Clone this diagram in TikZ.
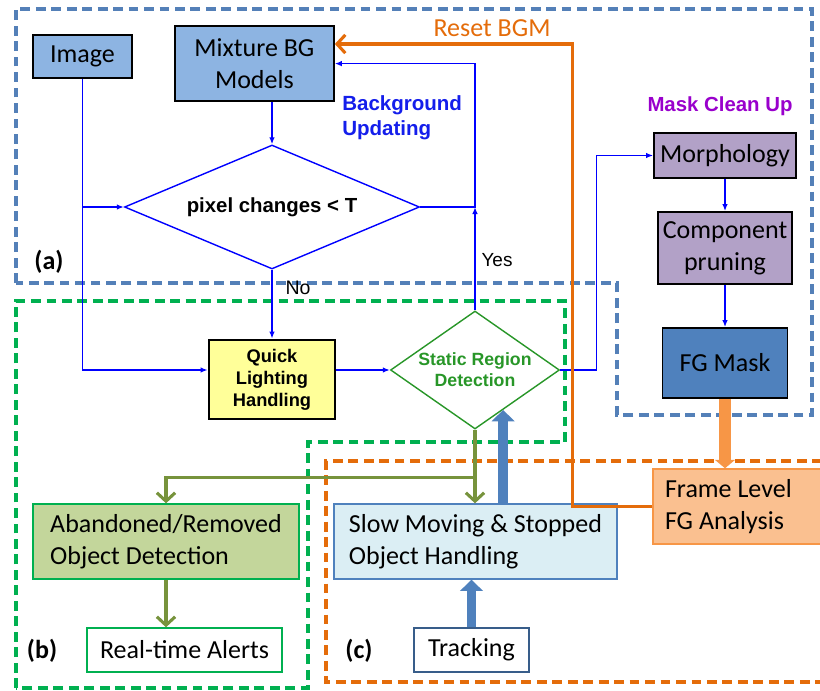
\documentclass[tikz,border=0pt]{standalone}
\usepackage{fontspec}
\setmainfont{Carlito}
\newfontfamily\arialfont{Liberation Sans}
\usetikzlibrary{shapes.geometric, arrows.meta, calc}

\definecolor{lineblue}{RGB}{0,0,255}
\definecolor{bgblue}{RGB}{141,180,226}
\definecolor{maskpurple}{RGB}{178,161,199}
\definecolor{fgblue}{RGB}{79,129,189}
\definecolor{darkblue}{RGB}{56,93,138}
\definecolor{quickyellow}{RGB}{255,255,153}
\definecolor{srgreen}{RGB}{40,150,40}
\definecolor{regiona}{RGB}{84,128,184}
\definecolor{regionb}{RGB}{0,176,80}
\definecolor{regionc}{RGB}{228,108,10}
\definecolor{olivearrow}{RGB}{119,147,60}
\definecolor{abgreen}{RGB}{195,214,155}
\definecolor{slowblue}{RGB}{219,238,244}
\definecolor{framefill}{RGB}{250,192,144}
\definecolor{frameline}{RGB}{247,150,70}
\definecolor{cleanpurple}{RGB}{153,0,204}
\definecolor{updblue}{RGB}{20,30,235}

\newcommand{\boxfont}{\fontsize{18.5}{22.5}\selectfont}
\newcommand{\arialb}{\arialfont\bfseries}

\begin{document}
\begin{tikzpicture}[
  flow/.style={draw=lineblue, line width=1pt, -{Latex[length=5pt,width=4pt]}},
  gflow/.style={draw=olivearrow, line width=2.2pt, -{Straight Barb[length=6pt,width=13pt]}},
  reset/.style={draw=regionc, line width=2.2pt, -{Straight Barb[length=6pt,width=13pt]}},
  block/.style={draw=fgblue, line width=7pt, -{Triangle[length=8pt,width=16pt]}},
  fgflow/.style={draw=frameline, line width=8pt, -{Triangle[length=6pt,width=14pt]}},
  region/.style={line width=2.4pt, dash pattern=on 7pt off 4pt},
  bgbox/.style={draw=black, line width=1.3pt, fill=bgblue, align=center, inner sep=0pt, font=\boxfont},
  maskbox/.style={draw=black, line width=1.3pt, fill=maskpurple, align=center, inner sep=0pt, font=\boxfont},
  textbox/.style={line width=1pt, align=left, inner xsep=0.3cm, font=\boxfont},
  decision/.style={diamond, draw, line width=1pt, inner sep=0pt, align=center},
  tag/.style={font=\boxfont\bfseries}
]
  \useasboundingbox (0,0) rectangle (20.5,17.25);

  % Dashed regions (a), (b), (c)
  \draw[region, regiona] (0.4,10.175) -- (0.4,17.025) -- (20.3,17.025) -- (20.3,6.875)
    -- (15.425,6.875) -- (15.425,10.175) -- cycle;
  \draw[region, regionb] (0.4,0.05) -- (0.4,9.725) -- (14.125,9.725) -- (14.125,6.2)
    -- (7.7,6.2) -- (7.7,0.05) -- cycle;
  \draw[region, regionc] (20.55,5.725) -- (8.15,5.725) -- (8.15,0.2) -- (20.55,0.2);

  % Background model part
  \node[bgbox, minimum width=2.475cm, minimum height=1.075cm] (img) at (2.06,15.84) {Image};
  \node[bgbox, minimum width=3.975cm, minimum height=1.875cm] (mix) at (6.36,15.66) {Mixture BG\\Models};
  \node[decision, draw=lineblue, shape aspect=2.4, minimum width=7.375cm, minimum height=3.1cm,
    font=\arialb\fontsize{14.5}{17}\selectfont] (pix) at (6.8,12.075) {pixel changes < T};
  \node[draw=black, line width=2pt, fill=quickyellow, minimum width=3.15cm, minimum height=1.975cm,
    inner sep=0pt, align=center, font=\arialb\fontsize{13}{15.6}\selectfont] (quick) at (6.8,7.7625)
    {Quick\\Lighting\\Handling};
  \node[decision, draw=srgreen, text=srgreen, shape aspect=1.43, minimum width=4.225cm, minimum height=2.95cm,
    font=\arialb\fontsize{12.6}{15}\selectfont] (srd) at (11.875,8.0) {Static Region\\Detection};

  % Mask clean up
  \node[maskbox, minimum width=3.55cm, minimum height=1.125cm] (morph) at (18.125,13.3625) {Morphology};
  \node[maskbox, minimum width=3.35cm, minimum height=1.8cm] (comp) at (18.125,11.05) {Component\\pruning};
  \node[draw=black, line width=1.3pt, fill=fgblue, minimum width=3.125cm, minimum height=1.75cm,
    font=\boxfont] (fgm) at (18.125,8.175) {FG Mask};

  % Lower boxes
  \node[textbox, draw=frameline, fill=framefill, text width=3.95cm, align=flush left, minimum height=1.875cm]
    (frame) at (18.6,4.5875) {Frame Level\\FG Analysis};
  \node[textbox, draw=fgblue, fill=slowblue, minimum width=7.075cm, minimum height=1.875cm]
    (slow) at (11.8875,3.7125) {Slow Moving \& Stopped\\Object Handling};
  \node[textbox, draw=regionb, fill=abgreen, minimum width=6.65cm, minimum height=1.875cm]
    (aband) at (4.15,3.7125) {Abandoned/Removed\\Object Detection};
  \node[textbox, draw=regionb, minimum width=4.875cm, minimum height=1.1cm] (alerts) at (4.6125,1.0) {Real-time Alerts};
  \node[textbox, draw=darkblue, minimum width=2.875cm, minimum height=1.1cm] (track) at (11.7875,1.0) {Tracking};

  % Labels
  \node[font=\arialb\fontsize{14.6}{17.7}\selectfont, text=updblue, align=left, anchor=west, inner sep=0pt]
    (updlbl) at (8.55,14.3) {Background\\Updating};
  \node[font=\arialb\fontsize{14.5}{17}\selectfont, text=cleanpurple] (cleanlbl) at (18.0,14.6) {Mask Clean Up};
  \node[text=regionc, font=\boxfont] (resetlbl) at (12.3,16.55) {Reset BGM};
  \node[font=\arialfont\fontsize{13.5}{16}\selectfont] (yes) at (12.425,10.75) {Yes};
  \node[font=\arialfont\fontsize{13.9}{16}\selectfont] (no) at (7.45,10.05) {No};
  \node[tag] (taga) at (1.225,10.7) {(a)};
  \node[tag] (tagb) at (1.05,0.975) {(b)};
  \node[tag] (tagc) at (8.975,0.975) {(c)};

  % Blue flow
  \coordinate (upd) at (11.875,15.66);
  \draw[flow] (mix.south -| pix.north) -- (pix.north);
  \draw[flow] (img.south) |- (quick.west |- srd.west);
  \draw[flow] (img.south |- pix.west) -- (pix.west);
  \draw[flow] (pix.south) -- (quick.north);
  \draw[flow] (quick.east |- srd.west) -- (srd.west);
  \draw[flow] (pix.east) -| (upd) -- (upd -| mix.east);
  \draw[flow] (srd.north) -- (srd.north |- pix.east);
  \draw[flow] (srd.east) -- ++(0.9,0) |- (morph.west);
  \draw[flow] (morph.south) -- (comp.north);
  \draw[flow] (comp.south) -- (fgm.north);

  % Frame level analysis and reset
  \draw[fgflow] (fgm.south) -- (fgm.south |- frame.north);
  \draw[reset] (frame.west) -- ++(-2,0) |- ([yshift=4.9mm]mix.east);

  % Object handling
  \coordinate (split) at ($(srd.south)!0.65!(srd.south |- slow.north)$);
  \draw[gflow] (srd.south) -- (srd.south |- slow.north);
  \draw[gflow] (split) -| (aband.north);
  \draw[gflow] (aband.south) -- (aband.south |- alerts.north);
  \coordinate (srdin) at ($(srd.south)!0.33!(srd.east)$);
  \draw[block] (srdin |- slow.north) -- (srdin);
  \draw[block] (track.north) -- (track.north |- slow.south);
\end{tikzpicture}
\end{document}
